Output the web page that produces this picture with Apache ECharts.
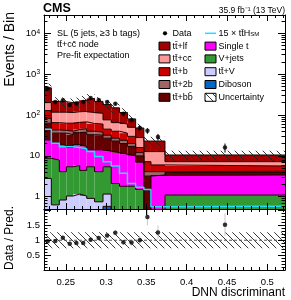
<!DOCTYPE html>
<html><head><meta charset="utf-8">
<script src="https://cdn.jsdelivr.net/npm/echarts@6/dist/echarts.min.js"></script>
<style>html,body{margin:0;padding:0;background:#fff}#c{width:291px;height:300px}</style>
</head><body><div id="c"></div>
<script>
// ---------------- data ----------------
const binEdges = [0.223,0.2321,0.2420,0.2508,0.2591,0.2673,0.2760,0.2857,0.2962,0.3064,0.3166,0.3265,0.3367,0.3469,0.3557,0.3731,0.522];
const ttlf    = [261, 98, 95, 85, 90, 108, 140, 105, 104, 85, 55, 30, 20, 10.3, 10.3, 3.3];
const ttcc    = [73, 52, 54, 52, 54, 54, 53, 50, 31, 25, 24, 20, 12, 5.5, 6.7, 1.55];
const ttb     = [45, 22, 21, 23, 22, 22, 22, 22, 13, 13, 12, 10, 4, 3.1, 1.9, 1.45];
const tt2b    = [20, 7, 6, 7, 7, 8, 7, 6, 5, 4, 4, 3, 2, 0.9, 0.7, 0.3];
const ttbb    = [38.5, 16, 18, 17, 18, 21, 19, 18, 14, 11, 9, 7, 3, 2.75, 0.1, 0.5];
const singleT = [15.8, 12.1, 13.9, 10.6, 13.2, 12.6, 8.6, 9.9, 7.6, 9.9, 9.2, 8.2, 5.5, 0.05, 2.85, 2.3];
const vJets   = [5.9, 7.27, 3.27, 4.36, 4.64, 3.36, 4.49, 3.35, 4.24, 1.7, 1.4, 1.4, 1.2, 0.2, 0.25, 0.8];
const ttV     = [2.7, 0.58, 0.73, 0.94, 1.06, 0.94, 0.81, 0.65, 0.58, 0.35, 0.35, 0.35, 0.25, 0.18, 0.18, 0.25];
const diboson = [0.1, 0.05, 0.1, 0.1, 0.1, 0.1, 0.1, 0.1, 0.58, 0.05, 0.05, 0.05, 0.05, 0.02, 0.02, 0.05];
const dataCounts = [448, 209, 229, 176, 191, 209, 260, 232, 209, 188, 107, 74, 48, 41, 29, 16];
const ttH15   = [45, 20.4, 16.8, 16.8, 16, 15, 12.7, 9.6, 7.2, 5.65, 3.74, 2.1, 1.7, 1.5, 0.57, 0.58];
const relUnc  = [0.27, 0.27, 0.27, 0.27, 0.27, 0.27, 0.27, 0.27, 0.27, 0.27, 0.27, 0.27, 0.27, 0.27, 0.27, 0.27];
const xMajorTicks = [0.25, 0.3, 0.35, 0.4, 0.45, 0.5];
const yMajorTicks = [1, 10, 100, 1000, 10000];
const ratioLabels = [0.5, 1, 1.5];

// ---------------- setup ----------------
const X_MIN = 0.223, X_MAX = 0.522, Y_MIN = 0.5, Y_MAX = 28000, R_MIN = 0, R_MAX = 2.05;
const FONT = '"Liberation Sans", Arial, sans-serif';
const xMinorTicks = []; for (let k = 23; k <= 52; k++) { const v = +(k/100).toFixed(2); if (xMajorTicks.indexOf(v) < 0) xMinorTicks.push(v); }
const yMinorTicks = []; [0.1,1,10,100,1000,10000].forEach(d => { for (let m = 2; m <= 9; m++) { const v = +(m*d).toPrecision(2); if (v >= Y_MIN && v <= Y_MAX) yMinorTicks.push(v); } });
const rMajorTicks = [0, 0.5, 1, 1.5, 2];
const rMinorTicks = []; for (let k = 1; k <= 20; k++) { const v = +(k/10).toFixed(1); if (rMajorTicks.indexOf(v) < 0) rMinorTicks.push(v); }

const layers = [
  {name:'Diboson', vals:diboson, color:'#0066cc'},
  {name:'tt\u0304+V', vals:ttV, color:'#ccccff'},
  {name:'V+jets', vals:vJets, color:'#339933'},
  {name:'Single t', vals:singleT, color:'#ff00ff'},
  {name:'tt\u0304+bb\u0304', vals:ttbb, color:'#660000'},
  {name:'tt\u0304+2b', vals:tt2b, color:'#a06666'},
  {name:'tt\u0304+b', vals:ttb, color:'#cc0000'},
  {name:'tt\u0304+cc\u0304', vals:ttcc, color:'#ff9999'},
  {name:'tt\u0304+lf', vals:ttlf, color:'#a30000'}
];
const nb = dataCounts.length;
const cum = new Array(nb).fill(0);
layers.forEach(l => { l.lo = cum.slice(); l.hi = cum.map((c,i) => c + l.vals[i]); for (let i=0;i<nb;i++) cum[i] = l.hi[i]; });
const total = cum.slice();

function hatchCanvas(){
  const c = document.createElement('canvas'); c.width = 7; c.height = 7;
  const g = c.getContext('2d'); g.strokeStyle = '#222'; g.lineWidth = 0.9;
  g.beginPath(); g.moveTo(-1,-1); g.lineTo(8,8); g.moveTo(-1,6); g.lineTo(1,8); g.moveTo(6,-1); g.lineTo(8,1); g.stroke();
  return c;
}
const hatch = {image: hatchCanvas(), repeat: 'repeat'};

function stepPts(vals){ const p=[]; vals.forEach((v,i)=>{p.push([binEdges[i],v]); p.push([binEdges[i+1],v]);}); return p; }

function rectSeries(items, fill, xi, yi, ymin, ymax, z, stroke){
  return {type:'custom', xAxisIndex:xi, yAxisIndex:yi, data:items, encode:{x:[0,1], y:[2,3]}, silent:true, animation:false, z:z,
    renderItem(params, api){
      const lo = Math.max(api.value(2), ymin), hi = Math.min(api.value(3), ymax);
      if (!(hi > lo)) return null;
      const a = api.coord([api.value(0), hi]), b = api.coord([api.value(1), lo]);
      return {type:'rect', shape:{x:a[0], y:a[1], width:b[0]-a[0], height:b[1]-a[1]}, style:{fill:fill, stroke:stroke||null, lineWidth:stroke?1:0}};
    }};
}
function errSeries(items, color, xi, yi, ymin, ymax){
  return {type:'custom', xAxisIndex:xi, yAxisIndex:yi, data:items, encode:{x:0, y:[1,2]}, silent:true, animation:false, z:8,
    renderItem(params, api){
      const lo = Math.max(api.value(1), ymin), hi = Math.min(api.value(2), ymax);
      if (!(hi > lo)) return null;
      const a = api.coord([api.value(0), hi]), b = api.coord([api.value(0), lo]);
      return {type:'line', shape:{x1:a[0], y1:a[1], x2:b[0], y2:b[1]}, style:{stroke:color, lineWidth:1}};
    }};
}

const centers = dataCounts.map((_,i) => (binEdges[i]+binEdges[i+1])/2);
const series = [];
layers.forEach(l => series.push(rectSeries(l.vals.map((v,i)=>[binEdges[i],binEdges[i+1],l.lo[i],l.hi[i]]), l.color, 0, 0, Y_MIN, Y_MAX, 2)));
layers.forEach(l => series.push({type:'line', xAxisIndex:0, yAxisIndex:0, data:stepPts(l.hi), symbol:'none', silent:true, animation:false, z:3, lineStyle:{color:'#1a0000', width:1}}));
series.push(rectSeries(total.map((t,i)=>[binEdges[i],binEdges[i+1],t*(1-relUnc[i]),t*(1+relUnc[i])]), hatch, 0, 0, Y_MIN, Y_MAX, 4));
series.push({type:'line', xAxisIndex:0, yAxisIndex:0, data:stepPts(ttH15), symbol:'none', silent:true, animation:false, z:5, lineStyle:{color:'#22ddff', width:1.5}});
series.push(errSeries(dataCounts.map((n,i)=>[centers[i], n-Math.sqrt(n), n+Math.sqrt(n)]), '#000', 0, 0, Y_MIN, Y_MAX));
series.push({type:'scatter', xAxisIndex:0, yAxisIndex:0, data:dataCounts.map((n,i)=>[centers[i],n]), symbol:'circle', symbolSize:4.5, itemStyle:{color:'#000'}, silent:true, animation:false, z:9});
// ratio
const ratio = dataCounts.map((n,i)=>n/total[i]);
series.push(rectSeries(total.map((t,i)=>[binEdges[i],binEdges[i+1],1-relUnc[i],1+relUnc[i]]), hatch, 4, 4, R_MIN, R_MAX, 4));
series.push({type:'line', xAxisIndex:4, yAxisIndex:4, data:[[X_MIN,1],[X_MAX,1]], symbol:'none', silent:true, animation:false, z:5, lineStyle:{color:'#555', width:1, type:[3,2]}});
series.push(errSeries(dataCounts.map((n,i)=>[centers[i], ratio[i]-Math.sqrt(n)/total[i], ratio[i]+Math.sqrt(n)/total[i]]), '#c8c8c8', 4, 4, R_MIN, R_MAX));
series.push({type:'scatter', xAxisIndex:4, yAxisIndex:4, data:ratio.map((r,i)=>[centers[i],r]), symbol:'circle', symbolSize:4.5, itemStyle:{color:'#000'}, silent:true, animation:false, z:9});

function xAx(grid, pos, ticks, len, line, labels){
  return {type:'value', gridIndex:grid, position:pos, min:X_MIN, max:X_MAX, z:10,
    axisLine:{show:line, onZero:false, lineStyle:{color:'#000', width:1}},
    axisTick:{show:true, inside:true, length:len, customValues:ticks, lineStyle:{color:'#000', width:1}},
    axisLabel:labels ? {show:true, customValues:xMajorTicks, margin:7, fontSize:9.5, fontFamily:FONT, color:'#000', formatter:v=>String(+v.toFixed(2))} : {show:false},
    splitLine:{show:false}};
}
function supFmt(v){ const e = Math.round(Math.log10(v)); if (e <= 1) return String(Math.round(v)); return '{b|10}{s|' + e + '}'; }
function yLog(grid, pos, ticks, len, line, labels){
  return {type:'log', gridIndex:grid, position:pos, min:Y_MIN, max:Y_MAX, logBase:10, z:10,
    axisLine:{show:line, lineStyle:{color:'#000', width:1}},
    axisTick:{show:true, inside:true, length:len, customValues:ticks, lineStyle:{color:'#000', width:1}},
    axisLabel:labels ? {show:true, customValues:yMajorTicks, margin:4, fontSize:9.5, fontFamily:FONT, color:'#000', formatter:supFmt,
      rich:{b:{fontSize:9.5, fontFamily:FONT, color:'#000'}, s:{fontSize:6.5, fontFamily:FONT, color:'#000', verticalAlign:'top'}}} : {show:false},
    splitLine:{show:false}};
}
function yRat(grid, pos, ticks, len, line, labels){
  return {type:'value', gridIndex:grid, position:pos, min:R_MIN, max:R_MAX, z:10,
    axisLine:{show:line, lineStyle:{color:'#000', width:1}},
    axisTick:{show:true, inside:true, length:len, customValues:ticks, lineStyle:{color:'#000', width:1}},
    axisLabel:labels ? {show:true, customValues:ratioLabels, margin:4, fontSize:9.5, fontFamily:FONT, color:'#000', formatter:v=>String(v)} : {show:false},
    splitLine:{show:false}};
}

// legend graphics
const colX1 = 159, colX2 = 205, rowY = [33.3, 46.1, 58.9, 71.7, 84.5, 97.3];
const g = [];
function box(x, y, fill){ g.push({type:'rect', shape:{x:x, y:y-4, width:11, height:8}, style:{fill:fill, stroke:'#000', lineWidth:1}, z:100}); }
function txt(x, y, t, extra){ g.push(Object.assign({type:'text', x:x, y:y, z:100, style:Object.assign({text:t, font:'9px ' + FONT, fill:'#000', verticalAlign:'middle'}, extra||{})})); }
g.push({type:'circle', shape:{cx:colX1+6, cy:rowY[0], r:2.1}, style:{fill:'#000'}, z:100});
txt(colX1+13.5, rowY[0], 'Data');
const col1 = [layers[8], layers[7], layers[6], layers[5], layers[4]];
col1.forEach((l,k)=>{ box(colX1, rowY[k+1], l.color); txt(colX1+13.5, rowY[k+1], l.name); });
g.push({type:'line', shape:{x1:colX2, y1:rowY[0], x2:colX2+11, y2:rowY[0]}, style:{stroke:'#22ddff', lineWidth:1.5}, z:100});
txt(colX2+13.5, rowY[0], '15 \u00d7 tt\u0304H{s|SM}', {rich:{s:{fontSize:6, fontFamily:FONT, verticalAlign:'bottom'}}});
const col2 = [layers[3], layers[2], layers[1], layers[0]];
col2.forEach((l,k)=>{ box(colX2, rowY[k+1], l.color); txt(colX2+13.5, rowY[k+1], l.name); });
box(colX2, rowY[5], hatch); txt(colX2+13.5, rowY[5], 'Uncertainty');
// texts
g.push({type:'text', x:43, y:9, z:100, style:{text:'CMS', font:'bold 12.5px ' + FONT, fill:'#000', verticalAlign:'middle'}});
txt(285, 10.5, '35.9 fb\u207b\u00b9 (13 TeV)', {align:'right', font:'8.5px ' + FONT});
txt(57, 33.3, 'SL (5 jets, \u22653 b tags)');
txt(57, 44.5, 'tt\u0304+cc\u0304 node');
txt(57, 56, 'Pre-fit expectation');
g.push({type:'text', x:10, y:12, rotation:Math.PI/2, z:100, style:{text:'Events / Bin', font:'14px ' + FONT, fill:'#000', align:'right', verticalAlign:'middle'}});
g.push({type:'text', x:10, y:238, rotation:Math.PI/2, z:100, style:{text:'Data / Pred.', font:'12px ' + FONT, fill:'#000', align:'center', verticalAlign:'middle'}});
g.push({type:'text', x:285, y:293, z:100, style:{text:'DNN discriminant', font:'12px ' + FONT, fill:'#000', align:'right', verticalAlign:'middle'}});

const chart = echarts.init(document.getElementById('c'), null, {renderer:'canvas'});
chart.setOption({
  animation:false, backgroundColor:'#fff',
  grid:[{left:44, right:6, top:15, height:194}, {left:44, right:6, top:209, height:61}],
  xAxis:[
    xAx(0,'bottom',xMajorTicks,6,true,false), xAx(0,'bottom',xMinorTicks,3,false,false),
    xAx(0,'top',xMajorTicks,6,true,false), xAx(0,'top',xMinorTicks,3,false,false),
    xAx(1,'bottom',xMajorTicks,6,true,true), xAx(1,'bottom',xMinorTicks,3,false,false),
    xAx(1,'top',xMajorTicks,6,true,false), xAx(1,'top',xMinorTicks,3,false,false)
  ],
  yAxis:[
    yLog(0,'left',yMajorTicks,7,true,true), yLog(0,'left',yMinorTicks,3.5,false,false),
    yLog(0,'right',yMajorTicks,7,true,false), yLog(0,'right',yMinorTicks,3.5,false,false),
    yRat(1,'left',rMajorTicks,7,true,true), yRat(1,'left',rMinorTicks,3.5,false,false),
    yRat(1,'right',rMajorTicks,7,true,false), yRat(1,'right',rMinorTicks,3.5,false,false)
  ],
  series:series,
  graphic:g
});
</script></body></html>
